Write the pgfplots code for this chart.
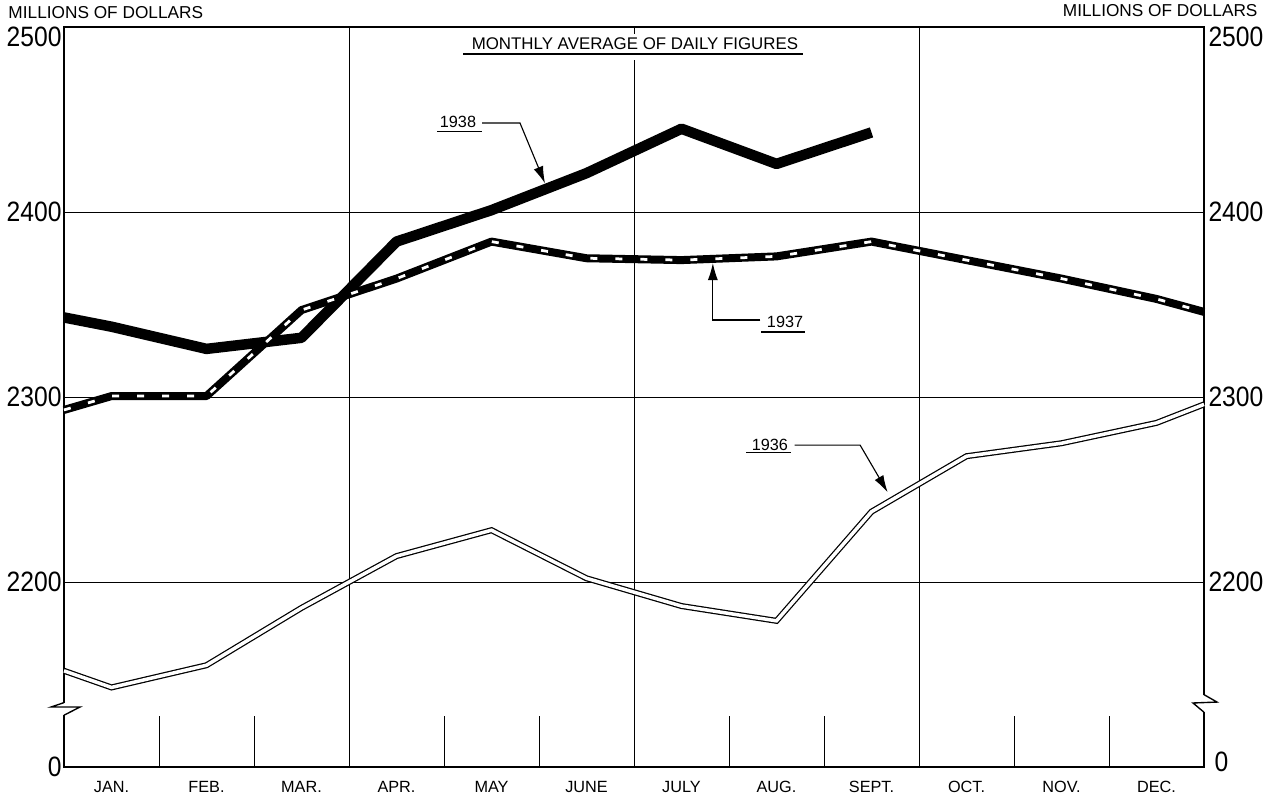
\documentclass[border=0pt]{standalone}
\usepackage{fontspec}
\setmainfont{Liberation Sans}
\newfontfamily\numfont[FakeStretch=0.88]{Liberation Sans}
\usepackage{pgfplots}
\usepackage{pgfplotstable}
\pgfplotsset{compat=1.18}
\usetikzlibrary{arrows.meta}

\pgfplotstableread{
x y
0.5 2343
1 2338
2 2326
3 2332
4 2384
5 2401
6 2421
7 2445
8 2426
9 2443
}\dataA
\pgfplotstableread{
x y
0.5 2293
1 2300.5
2 2300.5
3 2347
4 2364
5 2384
6 2375
7 2374
8 2376
9 2384
10 2374
11 2364
12 2353
12.5 2346
}\dataB
\pgfplotstableread{
x y
0.5 2152
1 2143
2 2155
3 2186
4 2214
5 2228
6 2202
7 2187
8 2179
9 2238
10 2268
11 2275
12 2286
12.5 2296
}\dataC

\begin{document}
\begin{tikzpicture}
\begin{axis}[
  scale only axis, width=456pt, height=296pt,
  xmin=0.5, xmax=12.5, ymin=2100, ymax=2500,
  clip=false,
  axis line style={line width=0.55pt},
  xtick={1,2,3,4,5,6,7,8,9,10,11,12},
  xticklabels={JAN.,FEB.,MAR.,APR.,MAY,JUNE,JULY,AUG.,SEPT.,OCT.,NOV.,DEC.},
  xticklabel style={font=\fontsize{6.5}{7}\selectfont, yshift=-2pt},
  minor xtick={1.5,2.5,4.5,5.5,7.5,8.5,10.5,11.5},
  minor tick length=20.4pt,
  major tick length=0pt,
  minor x tick style={line width=0.4pt, black},
  xtick pos=left, ytick pos=left, tick align=inside,
  extra x ticks={3.5,6.5,9.5},
  extra x tick style={grid=major, xticklabel=\empty},
  ytick={2100,2200,2300,2400,2500},
  yticklabels={0,2200,2300,2400,{\rule{0pt}{16pt}2500}},
  yticklabel style={font=\numfont\fontsize{11.2}{12}\selectfont, inner sep=0.8pt},
  ymajorgrids,
  major grid style={line width=0.35pt, black},
]
% 1938
\addplot[black, line width=4.2pt, line join=round] table[x=x,y=y] {\dataA};
% 1937
\addplot[black, line width=3.2pt, line join=round] table[x=x,y=y] {\dataB};
\addplot[white, line width=1.1pt, dash pattern=on 2.8pt off 7.2pt] table[x=x,y=y] {\dataB};
% 1936
\addplot[black, line width=2.4pt, line join=miter] table[x=x,y=y] {\dataC};
\addplot[white, line width=1.4pt, line join=miter] table[x=x,y=y] {\dataC};

% title gap in grid
\fill[white] (axis cs:6.4,2496) rectangle (axis cs:6.6,2482);
\node[font=\fontsize{6.75}{8}\selectfont, inner sep=0pt] at (axis cs:6.51,2490.8) {MONTHLY AVERAGE OF DAILY FIGURES};
\draw[line width=0.6pt] (axis cs:4.70,2485.4) -- (axis cs:8.28,2485.4);

% axis unit labels
\node[anchor=west, font=\fontsize{6.9}{8}\selectfont, inner sep=0pt] at ([xshift=-22.4pt, yshift=5.6pt]rel axis cs:0,1) {MILLIONS OF DOLLARS};
\node[anchor=east, font=\fontsize{6.9}{8}\selectfont, inner sep=0pt] at ([xshift=21.6pt, yshift=6.4pt]rel axis cs:1,1) {MILLIONS OF DOLLARS};

% right tick labels
\node[anchor=west, inner sep=0pt, xshift=1.6pt, font=\numfont\fontsize{11.2}{12}\selectfont] at (axis cs:12.5,2200) {2200};
\node[anchor=west, inner sep=0pt, xshift=1.6pt, font=\numfont\fontsize{11.2}{12}\selectfont] at (axis cs:12.5,2300) {2300};
\node[anchor=west, inner sep=0pt, xshift=1.6pt, font=\numfont\fontsize{11.2}{12}\selectfont] at (axis cs:12.5,2400) {2400};
\node[anchor=west, inner sep=0pt, xshift=1.6pt, yshift=-4pt, font=\numfont\fontsize{11.2}{12}\selectfont] at (axis cs:12.5,2500) {2500};
\node[anchor=west, inner sep=0pt, xshift=4pt, yshift=2pt, font=\numfont\fontsize{11.2}{12}\selectfont] at (axis cs:12.5,2100) {0};

% axis breaks
\draw[white, line width=1.6pt] (axis cs:0.5,2134.6) -- (axis cs:0.5,2128.1);
\draw[line width=0.55pt, line join=miter] (axis cs:0.5,2134.8) -- (axis cs:0.363,2132.4) -- (axis cs:0.668,2132.4) -- (axis cs:0.5,2128.0);
\draw[white, line width=1.6pt] (axis cs:12.5,2138.9) -- (axis cs:12.5,2129.7);
\draw[line width=0.55pt, line join=miter] (axis cs:12.5,2139.1) -- (axis cs:12.637,2135.1) -- (axis cs:12.384,2134.6) -- (axis cs:12.5,2129.6);

% annotations
\node[font=\fontsize{6.5}{8}\selectfont, inner sep=0pt] at (axis cs:4.647,2448.6) {1938};
\draw[line width=0.5pt] (axis cs:4.43,2443.6) -- (axis cs:4.90,2443.6);
\draw[line width=0.45pt, -{Latex[length=6.8pt, width=4pt]}] (axis cs:4.90,2448.1) -- (axis cs:5.30,2448.1) -- (axis cs:5.563,2415.5);

\node[font=\fontsize{6.5}{8}\selectfont, inner sep=0pt] at (axis cs:8.09,2340.5) {1937};
\draw[line width=0.5pt] (axis cs:7.84,2335.1) -- (axis cs:8.30,2335.1);
\draw[line width=0.45pt, -{Latex[length=6.8pt, width=4pt]}] (axis cs:7.83,2341.6) -- (axis cs:7.33,2341.6) -- (axis cs:7.33,2372.4);

\node[font=\fontsize{6.5}{8}\selectfont, inner sep=0pt] at (axis cs:7.93,2274) {1936};
\draw[line width=0.5pt] (axis cs:7.68,2269.8) -- (axis cs:8.15,2269.8);
\draw[line width=0.45pt, -{Latex[length=6.8pt, width=4pt]}] (axis cs:8.19,2274) -- (axis cs:8.88,2274) -- (axis cs:9.17,2248.5);
\end{axis}
\pgfresetboundingbox
\path[use as bounding box] (-25.6pt,-11.2pt) rectangle (482.4pt,306.8pt);
\end{tikzpicture}
\end{document}
